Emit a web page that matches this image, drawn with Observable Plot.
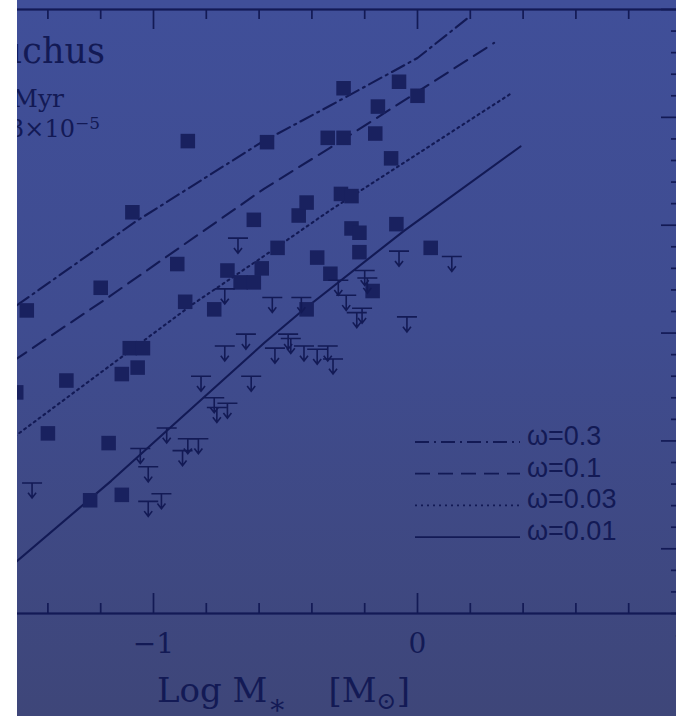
<!DOCTYPE html>
<html>
<head>
<meta charset="utf-8">
<script src="https://cdn.jsdelivr.net/npm/d3@7"></script>
<script src="https://cdn.jsdelivr.net/npm/@observablehq/plot@0.6"></script>
<style>
  html, body { margin: 0; padding: 0; background: #ffffff; }
  #stage { position: relative; width: 676px; height: 716px; overflow: hidden; background: #ffffff; }
  #panel {
    position: absolute; left: 17px; top: 0; width: 659px; height: 716px; overflow: hidden;
    background: linear-gradient(180deg, #404f99 0%, #3f4c90 45%, #3e4679 100%);
  }
  #panel svg { position: absolute; left: -128px; top: 0; max-width: none !important; width: 812px !important; height: 716px !important; }
</style>
</head>
<body>
<div id="stage"><div id="panel"></div></div>
<script>
// Ophiuchus accretion rates: log Mdot vs log M* (detections and upper limits)
const detectedLogM = [-1.48, -1.52, -1.40, -1.33, -1.24, -1.20, -1.17, -1.12, -1.12, -1.09,
  -1.06, -1.04, -1.08, -0.87, -0.91, -0.88, -0.77, -0.62, -0.72, -0.67,
  -0.62, -0.59, -0.57, -0.53, -0.45, -0.42, -0.42, -0.38, -0.34, -0.28,
  -0.28, -0.29, -0.25, -0.25, -0.22, -0.33, -0.22, -0.17, -0.16, -0.15,
  -0.10, -0.08, -0.07, 0.00, 0.05];
const detectedLogMdot = [-8.79, -9.55, -9.93, -9.44, -10.55, -8.58, -10.02, -10.50, -9.38, -9.14,
  -9.32, -9.14, -7.88, -7.22, -8.36, -8.71, -8.78, -7.95, -8.42, -8.53,
  -8.53, -8.40, -7.23, -8.21, -7.91, -7.79, -8.78, -8.30, -7.19, -7.19,
  -6.73, -7.71, -7.73, -8.03, -8.25, -8.45, -8.07, -8.61, -7.15, -6.90,
  -7.38, -7.99, -6.67, -6.80, -8.21];

const upperLogM = [-1.46, -1.05, -1.02, -1.02, -0.97, -0.95, -0.89, -0.87, -0.83, -0.82,
  -0.77, -0.72, -0.76, -0.73, -0.65, -0.63, -0.68, -0.73, -0.55, -0.44,
  -0.54, -0.49, -0.48, -0.43, -0.38, -0.34, -0.32, -0.30, -0.27, -0.20,
  -0.19, -0.23, -0.21, -0.07, 0.13, -0.04];
const upperLogMdot = [-10.39, -10.07, -10.24, -10.56, -10.49, -9.88, -10.09, -9.98, -9.98, -9.40,
  -9.60, -9.65, -9.69, -9.12, -9.01, -9.40, -8.12, -8.59, -8.67, -8.67,
  -9.14, -9.01, -9.05, -9.12, -9.15, -9.12, -9.24, -8.51, -8.65, -8.42,
  -8.49, -8.81, -8.77, -8.24, -8.29, -8.85];

// Model curves for the four values of omega
const omegaLabels = ["ω=0.3", "ω=0.1", "ω=0.03", "ω=0.01"];
const omega03LogM    = [-1.60, -1.51, -1.07, -0.59, -0.33, 0.00, 0.19];
const omega03LogMdot = [-8.87, -8.73, -7.97, -7.23, -6.89, -6.45, -6.08];
const omega01LogM    = [-1.60, -1.52, -1.19, -0.58, -0.33, 0.29];
const omega01LogMdot = [-9.38, -9.24, -8.70, -7.66, -7.28, -6.31];
const omega003LogM    = [-1.60, -1.51, -0.85, -0.59, -0.33, 0.36];
const omega003LogMdot = [-10.09, -9.93, -8.73, -8.30, -7.86, -6.77];
const omega001LogM    = [-1.60, -1.52, -1.16, -0.58, -0.44, -0.05, 0.39];
const omega001LogMdot = [-11.30, -11.12, -10.37, -9.09, -8.80, -8.05, -7.27];

const xLabelTicks = [-1, 0, 1];

const ink = "#131a55";
const squareInk = "#19215f";
const omegaDash = ["14,5,2,5", "15,8", "2,4", null];

const pairs = (xs, ys) => xs.map((m, i) => ({m, mdot: ys[i]}));
const detected = pairs(detectedLogM, detectedLogMdot);
const upper = pairs(upperLogM, upperLogMdot);
const curves = [
  pairs(omega03LogM, omega03LogMdot),
  pairs(omega01LogM, omega01LogMdot),
  pairs(omega003LogM, omega003LogMdot),
  pairs(omega001LogM, omega001LogMdot)
];

// Upper-limit glyph: a bar at the value with a downward arrow
const upperLimitSymbol = {
  draw(context, size) {
    const r = Math.sqrt(size / Math.PI);
    const stem = 1.5 * r, head = 0.4 * r;
    context.moveTo(-r, 0); context.lineTo(r, 0);
    context.moveTo(0, 0); context.lineTo(0, stem);
    context.moveTo(-head, stem - head * 1.3); context.lineTo(0, stem); context.lineTo(head, stem - head * 1.3);
  }
};

const xMajor = [-2, -1, 0, 1];
const xMinor = d3.range(-2, 1.0001, 0.2).filter(v => Math.abs(v - Math.round(v)) > 1e-6);
const yMajor = [-11, -10, -9, -8, -7, -6];
const yMinor = d3.range(-11.6, -5.9999, 0.2).filter(v => Math.abs(v - Math.round(v)) > 1e-6);

const frameW = 792, frameH = 604;
const serif = "'DejaVu Serif', serif";

const chart = Plot.plot({
  width: 812,
  height: 716,
  marginLeft: 0,
  marginRight: 20,
  marginTop: 9,
  marginBottom: 103,
  x: {domain: [-2, 1], axis: null},
  y: {domain: [-11.6, -6], axis: null},
  style: {background: "transparent", color: ink, fontFamily: serif, fontSize: "23px", overflow: "visible", maxWidth: "none"},
  marks: [
    // inward ticks on bottom, top and right
    Plot.ruleX(xMajor, {stroke: ink, strokeWidth: 1.7, insetTop: frameH - 20}),
    Plot.ruleX(xMinor, {stroke: ink, strokeWidth: 1.7, insetTop: frameH - 10}),
    Plot.ruleX(xMajor, {stroke: ink, strokeWidth: 1.7, insetBottom: frameH - 20}),
    Plot.ruleX(xMinor, {stroke: ink, strokeWidth: 1.7, insetBottom: frameH - 10}),
    Plot.ruleY(yMajor, {stroke: ink, strokeWidth: 1.7, insetLeft: frameW - 20}),
    Plot.ruleY(yMinor, {stroke: ink, strokeWidth: 1.7, insetLeft: frameW - 10}),
    Plot.frame({stroke: ink, strokeWidth: 2.2}),
    // x tick labels under the bottom axis
    Plot.text(xLabelTicks, {
      x: d => d, frameAnchor: "bottom", dy: 31, lineAnchor: "middle",
      text: d => (d < 0 ? "\u2212" + Math.abs(d) : String(d)),
      fontSize: 28, fontFamily: serif, fill: ink
    }),
    ...curves.map((c, i) => Plot.line(c, {
      x: "m", y: "mdot", stroke: ink, strokeWidth: 2.1,
      strokeDasharray: omegaDash[i] ?? undefined
    })),
    Plot.dot(detected, {x: "m", y: "mdot", symbol: "square", r: 8.2, fill: squareInk, stroke: "none"}),
    Plot.dot(upper, {x: "m", y: "mdot", symbol: upperLimitSymbol, r: 10, fill: "none", stroke: ink, strokeWidth: 1.6})
  ]
});

const svg = d3.select(chart);

// axis title
const title = svg.append("text")
  .attr("x", 268).attr("y", 702).attr("text-anchor", "start")
  .attr("font-family", serif).attr("font-size", 34).attr("fill", ink);
title.append("tspan").text("Log M");
title.append("tspan").attr("font-size", 28).attr("dy", 12).text("\u2217");
title.append("tspan").attr("dy", -12).attr("dx", 42).text("[M");
title.append("tspan").attr("font-size", 24).attr("dy", 7).text("\u2299");
title.append("tspan").attr("dy", -7).text("]");

// region annotations (upper left)
svg.append("text").attr("x", 216).attr("y", 63).attr("text-anchor", "end")
  .attr("font-family", serif).attr("font-size", 35).attr("fill", ink)
  .text("Ophiuchus");
svg.append("text").attr("x", 175).attr("y", 107).attr("text-anchor", "end")
  .attr("font-family", serif).attr("font-size", 25).attr("fill", ink)
  .text("Myr");
const rate = svg.append("text").attr("x", 211).attr("y", 137).attr("text-anchor", "end")
  .attr("font-family", serif).attr("font-size", 24).attr("fill", ink);
rate.append("tspan").text("3\u00d710");
rate.append("tspan").attr("font-size", 17).attr("dy", -8).text("\u22125");

// legend for the omega curves
const legend = svg.append("g");
omegaLabels.forEach((label, i) => {
  const y = 442 + i * 31.7;
  const ln = legend.append("line")
    .attr("x1", 526).attr("x2", 631).attr("y1", y).attr("y2", y)
    .attr("stroke", ink).attr("stroke-width", 1.8);
  if (omegaDash[i]) ln.attr("stroke-dasharray", omegaDash[i]);
  legend.append("text").attr("x", 638).attr("y", y + 3).attr("text-anchor", "start")
    .attr("font-family", "'Liberation Sans', sans-serif").attr("font-size", 27).attr("fill", ink)
    .text(label);
});

document.getElementById("panel").appendChild(chart);
</script>
</body>
</html>
